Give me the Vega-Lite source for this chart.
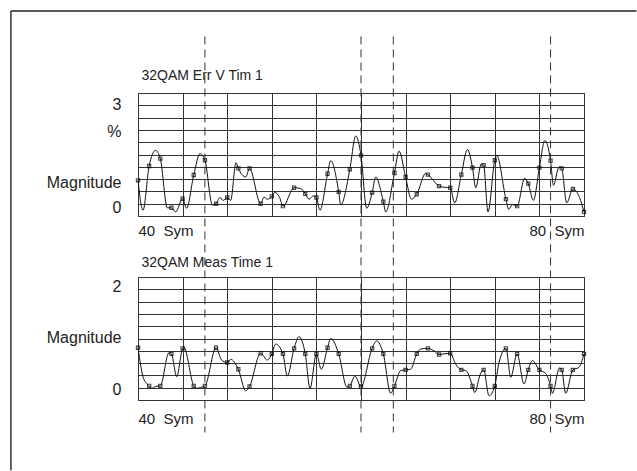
{
  "$schema": "https://vega.github.io/schema/vega-lite/v6.json",
  "padding": {"left": 9, "top": 9, "right": 0, "bottom": 0},
  "background": "white",
  "config": {
    "font": "Liberation Sans",
    "view": {"stroke": "#222", "strokeWidth": 1},
    "axis": {
      "labelFont": "Liberation Sans",
      "labelFontSize": 15,
      "labelColor": "#222",
      "gridColor": "#333",
      "gridWidth": 1,
      "gridOpacity": 1,
      "domain": false,
      "ticks": false,
      "tickSize": 0,
      "tickCount": 100,
      "labelOverlap": false,
      "labelBound": false,
      "titleFont": "Liberation Sans",
      "titleFontWeight": "normal",
      "titleFontSize": 14,
      "titleColor": "#222"
    }
  },
  "datasets": {
    "err": [
      {"s": 40, "v": 0.87}, {"s": 40.45, "v": 0.14}, {"s": 41, "v": 1.22}, {"s": 41.58, "v": 1.6},
      {"s": 42, "v": 1.4}, {"s": 42.63, "v": 0.2}, {"s": 43, "v": 0.2}, {"s": 43.38, "v": 0.1},
      {"s": 44, "v": 0.42}, {"s": 44.36, "v": 0.19}, {"s": 45, "v": 1.0}, {"s": 45.56, "v": 1.52},
      {"s": 46, "v": 1.36}, {"s": 46.67, "v": 0.27}, {"s": 47, "v": 0.3}, {"s": 47.35, "v": 0.45},
      {"s": 47.65, "v": 0.38}, {"s": 48, "v": 0.45}, {"s": 48.31, "v": 0.38}, {"s": 48.79, "v": 1.3},
      {"s": 49, "v": 1.16}, {"s": 49.66, "v": 0.95}, {"s": 50, "v": 1.16}, {"s": 51, "v": 0.3},
      {"s": 51.3, "v": 0.46}, {"s": 51.6, "v": 0.41}, {"s": 52, "v": 0.48}, {"s": 52.26, "v": 0.58},
      {"s": 52.7, "v": 0.45}, {"s": 53, "v": 0.24}, {"s": 54, "v": 0.69}, {"s": 54.59, "v": 0.67},
      {"s": 55, "v": 0.54}, {"s": 55.34, "v": 0.41}, {"s": 55.73, "v": 0.49}, {"s": 56, "v": 0.45},
      {"s": 56.32, "v": 0.14}, {"s": 57, "v": 1.03}, {"s": 57.28, "v": 1.35}, {"s": 58, "v": 0.59},
      {"s": 58.18, "v": 0.27}, {"s": 59, "v": 1.14}, {"s": 59.52, "v": 1.95}, {"s": 60, "v": 1.48},
      {"s": 60.51, "v": 0.19}, {"s": 61, "v": 0.57}, {"s": 61.32, "v": 0.95}, {"s": 62, "v": 0.35},
      {"s": 62.22, "v": 0.1}, {"s": 63, "v": 1.05}, {"s": 63.41, "v": 1.58}, {"s": 64, "v": 0.95},
      {"s": 64.52, "v": 0.41}, {"s": 65, "v": 0.53}, {"s": 65.8, "v": 1.04}, {"s": 66, "v": 1.01},
      {"s": 67, "v": 0.73}, {"s": 67.5, "v": 0.7}, {"s": 68, "v": 0.69}, {"s": 68.4, "v": 0.32},
      {"s": 69, "v": 1.01}, {"s": 69.54, "v": 1.62}, {"s": 70, "v": 1.18}, {"s": 70.29, "v": 0.69},
      {"s": 70.79, "v": 1.27}, {"s": 71, "v": 1.24}, {"s": 71.39, "v": 0.1}, {"s": 72, "v": 1.36},
      {"s": 72.17, "v": 1.48}, {"s": 73, "v": 0.41}, {"s": 73.25, "v": 0.16}, {"s": 73.57, "v": 0.28},
      {"s": 74, "v": 0.24}, {"s": 74.68, "v": 0.92}, {"s": 75, "v": 0.79}, {"s": 75.46, "v": 0.38},
      {"s": 76, "v": 1.18}, {"s": 76.48, "v": 1.84}, {"s": 77, "v": 1.35}, {"s": 77.26, "v": 0.75},
      {"s": 77.76, "v": 1.2}, {"s": 78, "v": 1.16}, {"s": 78.45, "v": 0.32}, {"s": 79, "v": 0.66},
      {"s": 79.6, "v": 0.45}, {"s": 80, "v": 0.1}
    ],
    "meas": [
      {"s": 40, "v": 0.85}, {"s": 40.5, "v": 0.35}, {"s": 41, "v": 0.23}, {"s": 41.2, "v": 0.19},
      {"s": 41.6, "v": 0.22}, {"s": 42, "v": 0.23}, {"s": 42.78, "v": 0.77}, {"s": 43, "v": 0.75},
      {"s": 43.47, "v": 0.38}, {"s": 44, "v": 0.84}, {"s": 44.1, "v": 0.86}, {"s": 45, "v": 0.23},
      {"s": 45.17, "v": 0.19}, {"s": 46, "v": 0.23}, {"s": 47, "v": 0.85}, {"s": 47.5, "v": 0.65},
      {"s": 48, "v": 0.61}, {"s": 48.31, "v": 0.66}, {"s": 49, "v": 0.5}, {"s": 49.66, "v": 0.15},
      {"s": 50, "v": 0.22}, {"s": 51, "v": 0.76}, {"s": 51.6, "v": 0.65}, {"s": 52, "v": 0.75},
      {"s": 52.35, "v": 0.91}, {"s": 53, "v": 0.75}, {"s": 53.39, "v": 0.39}, {"s": 54, "v": 0.84},
      {"s": 54.44, "v": 1.03}, {"s": 55, "v": 0.75}, {"s": 55.43, "v": 0.19}, {"s": 56, "v": 0.75},
      {"s": 56.44, "v": 0.5}, {"s": 57, "v": 0.85}, {"s": 57.28, "v": 1.0}, {"s": 58, "v": 0.75},
      {"s": 58.74, "v": 0.21}, {"s": 59, "v": 0.23}, {"s": 59.46, "v": 0.39}, {"s": 60, "v": 0.22},
      {"s": 61, "v": 0.84}, {"s": 61.4, "v": 0.96}, {"s": 62, "v": 0.75}, {"s": 62.66, "v": 0.11},
      {"s": 63, "v": 0.23}, {"s": 63.56, "v": 0.48}, {"s": 64, "v": 0.49}, {"s": 64.45, "v": 0.5},
      {"s": 65, "v": 0.75}, {"s": 65.35, "v": 0.83}, {"s": 66, "v": 0.84}, {"s": 66.55, "v": 0.8},
      {"s": 67, "v": 0.74}, {"s": 67.45, "v": 0.75}, {"s": 68, "v": 0.76}, {"s": 68.5, "v": 0.58},
      {"s": 69, "v": 0.49}, {"s": 69.39, "v": 0.48}, {"s": 70, "v": 0.23}, {"s": 70.2, "v": 0.12},
      {"s": 70.7, "v": 0.42}, {"s": 71, "v": 0.49}, {"s": 71.48, "v": 0.07}, {"s": 72, "v": 0.23},
      {"s": 72.38, "v": 0.61}, {"s": 73, "v": 0.84}, {"s": 73.43, "v": 0.37}, {"s": 74, "v": 0.75},
      {"s": 74.62, "v": 0.26}, {"s": 75, "v": 0.49}, {"s": 75.37, "v": 0.64}, {"s": 76, "v": 0.49},
      {"s": 76.57, "v": 0.43}, {"s": 77, "v": 0.23}, {"s": 77.17, "v": 0.11}, {"s": 77.8, "v": 0.52},
      {"s": 78, "v": 0.49}, {"s": 78.36, "v": 0.11}, {"s": 79, "v": 0.49}, {"s": 79.55, "v": 0.53},
      {"s": 80, "v": 0.75}
    ],
    "cursors": [{"s": 46}, {"s": 60}, {"s": 62.9}, {"s": 77}]
  },
  "vconcat": [
    {
      "width": 446,
      "height": 123,
      "layer": [
        {
          "data": {"name": "err"},
          "mark": {"type": "line", "interpolate": "monotone", "color": "#111", "strokeWidth": 1},
          "encoding": {
            "x": {
              "field": "s", "type": "quantitative",
              "scale": {"domain": [40, 80], "nice": false, "zero": false},
              "axis": {
                "orient": "bottom", "title": null, "grid": true, "tickCount": 100,
                "values": [40, 44, 48, 52, 56, 60, 64, 68, 72, 76, 80],
                "labelExpr": "datum.value == 40 ? '40\u00a0 Sym' : datum.value == 80 ? '80\u00a0 Sym' : ''",
                "labelFlush": true, "labelPadding": 7
              }
            },
            "y": {
              "field": "v", "type": "quantitative",
              "scale": {"domain": [0, 3], "nice": false, "zero": false},
              "axis": {
                "title": null, "grid": true, "tickCount": 100, "labelFontSize": 16,
                "values": [0, 0.3, 0.6, 0.9, 1.2, 1.5, 1.8, 2.1, 2.4, 2.7, 3, 0.2, 0.82, 2.06, 2.72],
                "labelExpr": "datum.value == 2.72 ? '3' : datum.value == 2.06 ? '%' : datum.value == 0.82 ? 'Magnitude' : datum.value == 0.2 ? '0' : ''",
                "gridOpacity": {"condition": {"test": "datum.value == 0.2 || datum.value == 0.82 || datum.value == 2.06 || datum.value == 2.72", "value": 0}, "value": 1},
                "labelPadding": 17
              }
            }
          }
        },
        {
          "data": {"name": "err"},
          "transform": [{"filter": "datum.s % 1 == 0"}],
          "mark": {"type": "point", "shape": "square", "size": 10, "filled": false, "color": "#000", "strokeWidth": 1.2},
          "encoding": {
            "x": {
              "field": "s", "type": "quantitative",
              "axis": {
                "orient": "top", "title": "32QAM Err V Tim 1", "labels": false, "grid": false,
                "domain": false, "ticks": false, "titleX": 3, "titleY": -14,
                "titleAlign": "left", "titleBaseline": "alphabetic", "titleAnchor": "start"
              }
            },
            "y": {"field": "v", "type": "quantitative"}
          }
        },
        {
          "data": {"name": "cursors"},
          "mark": {"type": "rule", "clip": false, "color": "#333", "strokeDash": [8, 5], "strokeWidth": 1},
          "encoding": {
            "x": {"field": "s", "type": "quantitative", "axis": null},
            "y": {"datum": 4.38},
            "y2": {"datum": -5.28}
          }
        },
        {
          "data": {"values": [{}]},
          "mark": {"type": "rule", "clip": false, "color": "#333", "strokeWidth": 1.5},
          "encoding": {
            "x": {"datum": 28.6, "type": "quantitative", "axis": null},
            "y": {"datum": 5},
            "y2": {"datum": -6.2}
          }
        },
        {
          "data": {"values": [{}]},
          "mark": {"type": "rule", "clip": false, "color": "#222", "strokeWidth": 1.5},
          "encoding": {
            "x": {"datum": 28.6, "type": "quantitative", "axis": null},
            "x2": {"datum": 84.7},
            "y": {"datum": 5}
          }
        }
      ],
      "resolve": {"axis": {"x": "independent"}}
    },
    {
      "width": 446,
      "height": 123,
      "layer": [
        {
          "data": {"name": "meas"},
          "mark": {"type": "line", "interpolate": "monotone", "color": "#111", "strokeWidth": 1},
          "encoding": {
            "x": {
              "field": "s", "type": "quantitative",
              "scale": {"domain": [40, 80], "nice": false, "zero": false},
              "axis": {
                "orient": "bottom", "title": null, "grid": true, "tickCount": 100,
                "values": [40, 44, 48, 52, 56, 60, 64, 68, 72, 76, 80],
                "labelExpr": "datum.value == 40 ? '40\u00a0 Sym' : datum.value == 80 ? '80\u00a0 Sym' : ''",
                "labelFlush": true, "labelPadding": 11
              }
            },
            "y": {
              "field": "v", "type": "quantitative",
              "scale": {"domain": [0, 2], "nice": false, "zero": false},
              "axis": {
                "title": null, "grid": true, "tickCount": 100, "labelFontSize": 16,
                "values": [0, 0.2, 0.4, 0.6, 0.8, 1, 1.2, 1.4, 1.6, 1.8, 2, 0.17, 1.01, 1.85],
                "labelExpr": "datum.value == 1.85 ? '2' : datum.value == 1.01 ? 'Magnitude' : datum.value == 0.17 ? '0' : ''",
                "gridOpacity": {"condition": {"test": "datum.value == 0.17 || datum.value == 1.01 || datum.value == 1.85", "value": 0}, "value": 1},
                "labelPadding": 17
              }
            }
          }
        },
        {
          "data": {"name": "meas"},
          "transform": [{"filter": "datum.s % 1 == 0"}],
          "mark": {"type": "point", "shape": "square", "size": 10, "filled": false, "color": "#000", "strokeWidth": 1.2},
          "encoding": {
            "x": {
              "field": "s", "type": "quantitative",
              "axis": {
                "orient": "top", "title": "32QAM Meas Time 1", "labels": false, "grid": false,
                "domain": false, "ticks": false, "titleX": 3, "titleY": -11,
                "titleAlign": "left", "titleBaseline": "alphabetic", "titleAnchor": "start"
              }
            },
            "y": {"field": "v", "type": "quantitative"}
          }
        }
      ],
      "resolve": {"axis": {"x": "independent"}}
    }
  ],
  "spacing": 61,
  "bounds": "flush"
}
